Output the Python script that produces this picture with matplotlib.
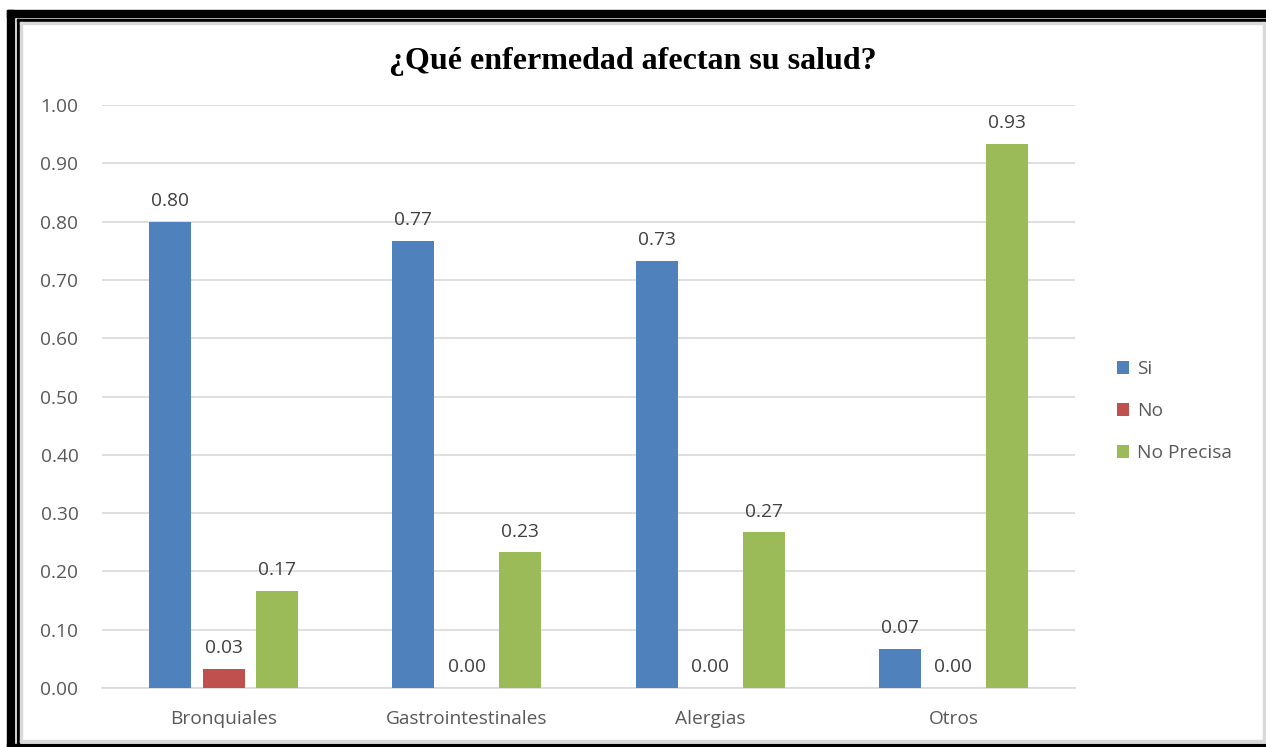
import matplotlib.pyplot as plt
import numpy as np
from matplotlib.patches import Rectangle

categories = ['Bronquiales', 'Gastrointestinales', 'Alergias', 'Otros']
si = [0.800, 0.767, 0.733, 0.067]
no = [0.033, 0.0, 0.0, 0.0]
no_precisa = [0.167, 0.233, 0.267, 0.933]
series_names = ['Si', 'No', 'No Precisa']
colors = ['#4F81BD', '#C0504D', '#9BBB59']
y_ticks = [0.0, 0.1, 0.2, 0.3, 0.4, 0.5, 0.6, 0.7, 0.8, 0.9, 1.0]

W, H = 1266, 747
fig = plt.figure(figsize=(W / 100, H / 100), dpi=100)

# frame around the chart (thick black, thin black, light gray)
def px(x0, y0, x1, y1, color):
    fig.patches.append(Rectangle((x0 / W, 1 - y1 / H), (x1 - x0) / W, (y1 - y0) / H,
                                 transform=fig.transFigure, color=color, zorder=0))

px(7, 10, W, 17, 'black')
px(7, 10, 14, H, 'black')
px(7, 744, W, H, 'black')
px(17, 19, W, 21, 'black')
px(17, 19, 19, 744, 'black')
px(20, 22, W - 2, 24, '#d9d9d9')
px(20, 22, 22, 742, '#d9d9d9')
px(W - 3, 22, W - 1, 742, '#d9d9d9')
px(20, 740, W - 2, 742, '#d9d9d9')

ax = fig.add_axes([102 / W, 1 - 688 / H, (1075 - 102) / W, (688 - 105) / H])

x = np.arange(len(categories))
width = 0.172
offset = 0.22
fs = 13.8
for i, (vals, name, c) in enumerate(zip([si, no, no_precisa], series_names, colors)):
    bars = ax.bar(x + (i - 1) * offset, vals, width, color=c, label=name, zorder=3)
    for b, v in zip(bars, vals):
        ax.text(b.get_x() + b.get_width() / 2, v + 0.02, f'{v:.2f}', ha='center', va='bottom',
                fontsize=fs, color='#404040', family='Open Sans')

ax.set_xlim(-0.5, len(categories) - 0.5)
ax.set_ylim(0, 1.0)
ax.set_yticks(y_ticks)
ax.set_yticklabels([f'{t:.2f}' for t in y_ticks], fontsize=fs, color='#595959', family='Open Sans')
ax.set_xticks(x)
ax.set_xticklabels(categories, fontsize=fs, color='#595959', family='Open Sans')
ax.tick_params(length=0, axis='y', pad=17)
ax.tick_params(length=0, axis='x', pad=16)
ax.grid(axis='y', color='#d9d9d9', linewidth=1.2, zorder=0)
for s in ['top', 'right', 'left']:
    ax.spines[s].set_visible(False)
ax.spines['bottom'].set_color('#d9d9d9')
ax.spines['bottom'].set_linewidth(1.2)

fig.text(0.5, 1 - 62 / H, '¿Qué enfermedad afectan su salud?', ha='center', va='center',
         fontsize=23, fontweight='bold', family='Liberation Serif')

leg = ax.legend(loc='center left', bbox_to_anchor=(1.025, 0.475), frameon=False,
                prop={'family': 'Open Sans', 'size': fs}, handlelength=0.65, handleheight=0.65,
                handletextpad=0.4, labelspacing=1.25)
for t in leg.get_texts():
    t.set_color('#595959')

fig.savefig('out.png', dpi=100)
